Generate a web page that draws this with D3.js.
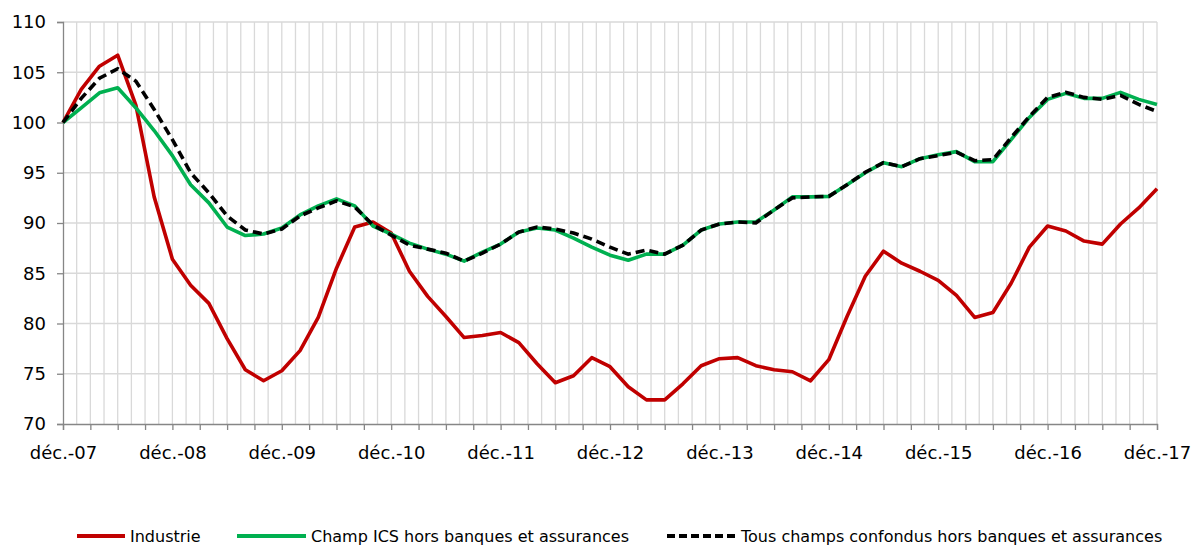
<!DOCTYPE html>
<html>
<head>
<meta charset="utf-8">
<script src="https://cdn.jsdelivr.net/npm/d3@7"></script>
<style>
  body { margin: 0; background: #fff; }
  svg { display: block; font-family: 'DejaVu Sans', sans-serif; }
</style>
</head>
<body>
<svg width="1193" height="545"></svg>
<script>
// bimonthly points, déc.-07 to déc.-17 (month offsets 0, 2, ..., 120)
const months = d3.range(0, 121, 2)

const industrie = [
  100, 103.3, 105.6, 106.7, 101.7, 92.6, 86.4, 83.8, 82.0, 78.5,
  75.4, 74.3, 75.3, 77.3, 80.6, 85.5, 89.6, 90.1, 89.0, 85.2,
  82.7, 80.7, 78.6, 78.8, 79.1, 78.1, 76.0, 74.1, 74.8, 76.6,
  75.7, 73.7, 72.4, 72.4, 74.0, 75.8, 76.5, 76.6, 75.8, 75.4,
  75.2, 74.3, 76.4, 80.7, 84.7, 87.2, 86.0, 85.2, 84.3, 82.8,
  80.6, 81.1, 84.0, 87.6, 89.7, 89.2, 88.2, 87.9, 89.9, 91.5,
  93.4
]

const champICS = [
  100, 101.45, 102.95, 103.45, 101.45, 99.2, 96.7, 93.8, 92.0, 89.6,
  88.75, 88.9, 89.5, 90.8, 91.7, 92.4, 91.7, 89.7, 88.9, 88.0,
  87.4, 86.9, 86.2, 87.1, 87.9, 89.1, 89.5, 89.3, 88.5, 87.6,
  86.8, 86.3, 86.9, 86.9, 87.8, 89.3, 89.9, 90.1, 90.1, 91.3,
  92.6, 92.6, 92.65, 93.8, 95.0, 96.0, 95.6, 96.4, 96.8, 97.1,
  96.1, 96.1, 98.3, 100.5, 102.3, 102.9, 102.4, 102.4, 103.0, 102.3,
  101.8
]

const tousChamps = [
  100, 102.4, 104.4, 105.35, 104.1, 101.3, 98.3, 95.0, 93.0, 90.7,
  89.3, 88.9, 89.4, 90.7, 91.5, 92.2, 91.6, 89.8, 88.8, 87.8,
  87.4, 87.0, 86.2, 87.0, 87.9, 89.1, 89.6, 89.4, 89.0, 88.4,
  87.6, 86.9, 87.3, 86.9, 87.8, 89.3, 89.9, 90.1, 90.0, 91.3,
  92.5, 92.6, 92.65, 93.8, 95.05, 96.0, 95.6, 96.4, 96.7, 97.05,
  96.2, 96.3, 98.5, 100.6, 102.5, 103.0, 102.5, 102.3, 102.7, 101.8,
  101.1
]

const yearLabels = ['déc.-07', 'déc.-08', 'déc.-09', 'déc.-10', 'déc.-11', 'déc.-12',
  'déc.-13', 'déc.-14', 'déc.-15', 'déc.-16', 'déc.-17']
const yTicks = [70, 75, 80, 85, 90, 95, 100, 105, 110]

const seriesNames = ['Industrie', 'Champ ICS hors banques et assurances',
  'Tous champs confondus hors banques et assurances']

const svg = d3.select('svg')

const x = d3.scaleLinear().domain([0, 120]).range([63, 1157])
const y = d3.scaleLinear().domain([70, 110]).range([424, 22])

const grid = svg.append('g')
    .attr('stroke', '#d9d9d9')
    .attr('stroke-width', 1.3)

// vertical gridlines (every 1.5 months, as in the source)
grid.selectAll('.vg')
  .data(d3.range(1.5, 120.1, 1.5))
  .join('line')
    .attr('x1', d => x(d)).attr('x2', d => x(d))
    .attr('y1', y(110)).attr('y2', y(70))

grid.selectAll('.hg')
  .data(yTicks.slice(1))
  .join('line')
    .attr('x1', x(0)).attr('x2', x(120))
    .attr('y1', d => y(d)).attr('y2', d => y(d))

// y axis
const yAxis = svg.append('g')
    .attr('transform', `translate(${x(0)},0)`)
    .call(d3.axisLeft(y).tickValues(yTicks).tickSize(6).tickPadding(11))

yAxis.select('.domain').attr('stroke', '#868686').attr('stroke-width', 1.3)
yAxis.selectAll('.tick line').attr('stroke', '#868686').attr('stroke-width', 1.3)
yAxis.selectAll('text')
    .attr('fill', '#000')
    .style('font-size', '18px')
    .style('font-family', "'DejaVu Sans', sans-serif")

// x axis: minor ticks every quarter, labels every year
const xMinor = svg.append('g')
    .attr('transform', `translate(0,${y(70)})`)
    .call(d3.axisBottom(x).tickValues(d3.range(0, 121, 3)).tickSize(6).tickFormat(''))

xMinor.select('.domain').attr('stroke', '#868686').attr('stroke-width', 1.3)
xMinor.selectAll('.tick line').attr('stroke', '#868686').attr('stroke-width', 1.3)

const xAxis = svg.append('g')
    .attr('transform', `translate(0,${y(70)})`)
    .call(d3.axisBottom(x)
      .tickValues(d3.range(0, 121, 12))
      .tickSize(0)
      .tickPadding(22)
      .tickFormat((d, i) => yearLabels[i]))

xAxis.select('.domain').remove()
xAxis.selectAll('text')
    .attr('fill', '#000')
    .style('font-size', '18px')
    .style('font-family', "'DejaVu Sans', sans-serif")

// lines
const line = d3.line()
    .x((d, i) => x(months[i]))
    .y(d => y(d))

svg.append('path')
    .datum(industrie)
    .attr('fill', 'none')
    .attr('stroke', '#C00000')
    .attr('stroke-width', 3.6)
    .attr('stroke-linejoin', 'round')
    .attr('d', line)

svg.append('path')
    .datum(champICS)
    .attr('fill', 'none')
    .attr('stroke', '#00B050')
    .attr('stroke-width', 3.6)
    .attr('stroke-linejoin', 'round')
    .attr('d', line)

svg.append('path')
    .datum(tousChamps)
    .attr('fill', 'none')
    .attr('stroke', '#000')
    .attr('stroke-width', 3.6)
    .attr('stroke-dasharray', '9,5')
    .attr('d', line)

// legend
const legendItems = [
  { name: seriesNames[0], color: '#C00000', dash: null, x0: 77, x1: 125 },
  { name: seriesNames[1], color: '#00B050', dash: null, x0: 237, x1: 306 },
  { name: seriesNames[2], color: '#000', dash: '8,4', x0: 667, x1: 736 }
]

const legend = svg.append('g')
    .attr('transform', 'translate(0, 536)')

legend.selectAll('line')
  .data(legendItems)
  .join('line')
    .attr('x1', d => d.x0).attr('x2', d => d.x1)
    .attr('stroke', d => d.color)
    .attr('stroke-width', 4)
    .attr('stroke-dasharray', d => d.dash)

legend.selectAll('text')
  .data(legendItems)
  .join('text')
    .attr('x', d => d.x1 + 5)
    .attr('y', 6)
    .style('font-size', '16px')
    .text(d => d.name)
</script>
</body>
</html>
